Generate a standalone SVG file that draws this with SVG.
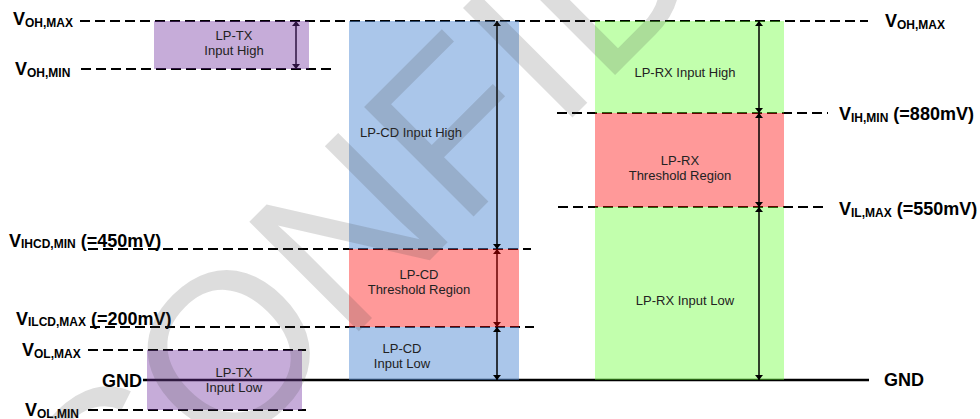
<svg xmlns="http://www.w3.org/2000/svg" width="980" height="419" viewBox="0 0 980 419">
<defs>
<style>
.dash{stroke:#000;stroke-width:2;stroke-dasharray:10 5;fill:none}
.gnd{stroke:#000;stroke-width:2.5;fill:none}
.v{font-family:"Liberation Sans",Arial,sans-serif;font-weight:bold;font-size:18px;fill:#000}
.s{font-size:12px}
.lbl{font-family:"Liberation Sans",Arial,sans-serif;font-size:13px;fill:#222;text-anchor:middle}
.purple{fill:#7030A0;fill-opacity:0.4}
.blue{fill:#558ED5;fill-opacity:0.5}
.red{fill:#FF0000;fill-opacity:0.4}
.green{fill:#66FF33;fill-opacity:0.4}
.wm{font-family:"Liberation Sans",Arial,sans-serif;font-size:225px;fill:#404040;fill-opacity:0.18}
</style>
<marker id="ahp" viewBox="0 0 5 8" refX="5" refY="4" markerWidth="5" markerHeight="8" orient="auto-start-reverse" markerUnits="userSpaceOnUse">
<path d="M0,0 L5,4 L0,8 z" fill="#2d1340"/>
</marker>
<marker id="ahr" viewBox="0 0 5 8" refX="5" refY="4" markerWidth="5" markerHeight="8" orient="auto-start-reverse" markerUnits="userSpaceOnUse">
<path d="M0,0 L5,4 L0,8 z" fill="#660000"/>
</marker>
<marker id="ahk" viewBox="0 0 5 8" refX="5" refY="4" markerWidth="5" markerHeight="8" orient="auto-start-reverse" markerUnits="userSpaceOnUse">
<path d="M0,0 L5,4 L0,8 z" fill="#000"/>
</marker>
</defs>
<rect width="980" height="419" fill="#fff"/>

<g id="levels">
<line class="dash" x1="80" y1="21" x2="868" y2="21"/>
<line class="dash" x1="81" y1="69" x2="335" y2="69"/>
<line class="dash" x1="557" y1="113" x2="828" y2="113"/>
<line class="dash" x1="558" y1="207" x2="828" y2="207"/>
<line class="dash" x1="88" y1="249" x2="531" y2="249"/>
<line class="dash" x1="90" y1="327" x2="534" y2="327"/>
<line class="dash" x1="88" y1="350" x2="306" y2="350"/>
<line class="dash" x1="88" y1="410" x2="306" y2="410"/>
<line class="gnd" x1="143" y1="380" x2="869" y2="380"/>
</g>

<g id="lp-tx-high">
<rect class="purple" x="154" y="21" width="155" height="48"/>
<text class="lbl" x="234" y="40">LP-TX</text>
<text class="lbl" x="234" y="55">Input High</text>
</g>
<g id="lp-tx-low">
<rect class="purple" x="147" y="350" width="155" height="60"/>
<text class="lbl" x="234" y="377">LP-TX</text>
<text class="lbl" x="234" y="392">Input Low</text>
</g>
<g id="lp-cd-high">
<rect class="blue" x="349" y="21" width="170" height="228"/>
<text class="lbl" x="411" y="137">LP-CD Input High</text>
</g>
<g id="lp-cd-threshold">
<rect class="red" x="349" y="249" width="170" height="78"/>
<text class="lbl" x="419" y="279">LP-CD</text>
<text class="lbl" x="419" y="294">Threshold Region</text>
</g>
<g id="lp-cd-low">
<rect class="blue" x="349" y="327" width="170" height="53"/>
<text class="lbl" x="402" y="353">LP-CD</text>
<text class="lbl" x="402" y="368">Input Low</text>
</g>
<g id="lp-rx-high">
<rect class="green" x="595" y="21" width="189" height="92"/>
<text class="lbl" x="685" y="77">LP-RX Input High</text>
</g>
<g id="lp-rx-threshold">
<rect class="red" x="595" y="113" width="189" height="94"/>
<text class="lbl" x="680" y="165">LP-RX</text>
<text class="lbl" x="680" y="180">Threshold Region</text>
</g>
<g id="lp-rx-low">
<rect class="green" x="595" y="207" width="189" height="173"/>
<text class="lbl" x="685" y="305">LP-RX Input Low</text>
</g>

<g id="connectors">
<line x1="296" y1="21" x2="296" y2="69" stroke="#2d1340" stroke-width="1.5" marker-start="url(#ahp)" marker-end="url(#ahp)"/>
<line x1="497" y1="21" x2="497" y2="249" stroke="#000" stroke-width="1.5" marker-start="url(#ahk)" marker-end="url(#ahk)"/>
<line x1="497" y1="249" x2="497" y2="327" stroke="#660000" stroke-width="1.5" marker-start="url(#ahr)" marker-end="url(#ahr)"/>
<line x1="497" y1="327" x2="497" y2="380" stroke="#000" stroke-width="1.5" marker-start="url(#ahk)" marker-end="url(#ahk)"/>
<line x1="759" y1="21" x2="759" y2="113" stroke="#000" stroke-width="1.5" marker-start="url(#ahk)" marker-end="url(#ahk)"/>
<line x1="759" y1="113" x2="759" y2="207" stroke="#000" stroke-width="1.5" marker-start="url(#ahk)" marker-end="url(#ahk)"/>
<line x1="759" y1="207" x2="759" y2="380" stroke="#000" stroke-width="1.5" marker-start="url(#ahk)" marker-end="url(#ahk)"/>
</g>

<g id="labels">
<text class="v" x="13" y="25">V<tspan class="s" dy="2">OH,MAX</tspan></text>
<text class="v" x="15" y="75">V<tspan class="s" dy="2">OH,MIN</tspan></text>
<text class="v" x="9" y="247">V<tspan class="s" dy="1">IHCD,MIN</tspan><tspan dy="-1"> (=450mV)</tspan></text>
<text class="v" x="16" y="325">V<tspan class="s" dy="1">ILCD,MAX</tspan><tspan dy="-1"> (=200mV)</tspan></text>
<text class="v" x="22" y="356">V<tspan class="s" dy="2">OL,MAX</tspan></text>
<text class="v" x="25" y="416">V<tspan class="s" dy="2">OL,MIN</tspan></text>
<text class="v" x="102" y="387">GND</text>
<text class="v" x="885" y="27">V<tspan class="s" dy="2">OH,MAX</tspan></text>
<text class="v" x="839" y="120">V<tspan class="s" dy="2">IH,MIN</tspan><tspan dy="-2"> (=880mV)</tspan></text>
<text class="v" x="839" y="215">V<tspan class="s" dy="2">IL,MAX</tspan><tspan dy="-2"> (=550mV)</tspan></text>
<text class="v" x="884" y="386">GND</text>
</g>

<text class="wm" transform="translate(107,583) rotate(-45)">CONFIDENTIAL</text>
</svg>
